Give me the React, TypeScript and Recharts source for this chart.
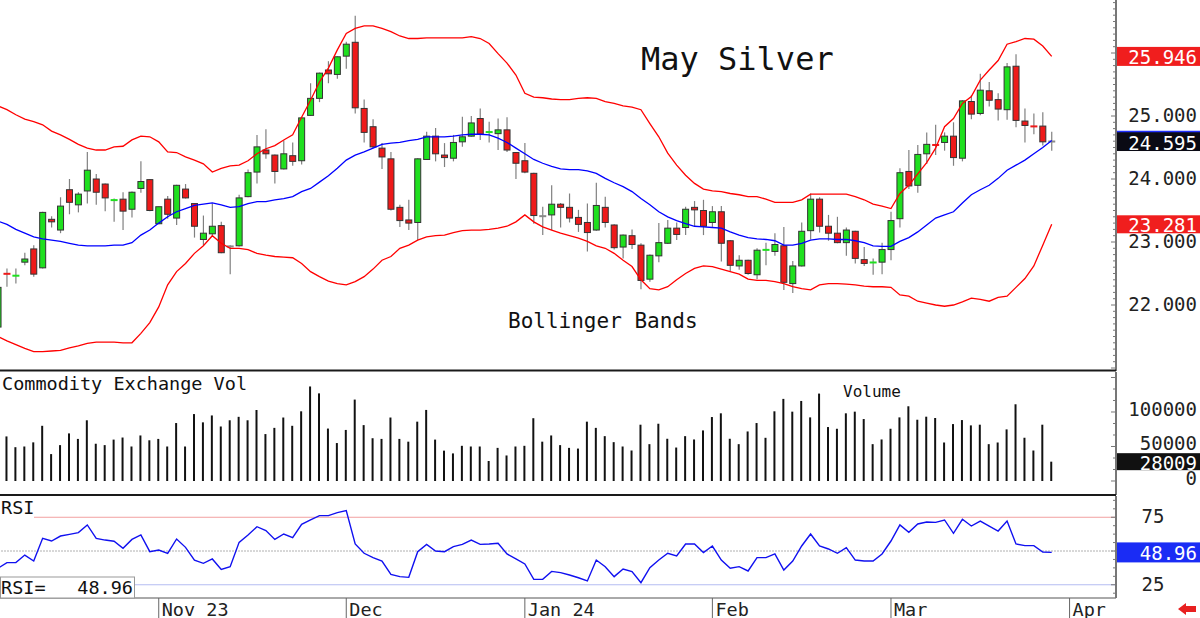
import React from 'react';
import { ComposedChart, Bar, Line, XAxis, YAxis, ReferenceLine } from 'recharts';

const FONT = "'DejaVu Sans Mono', monospace";

// ---- x domain (trading-day index) ----
const XMIN = 0.224;
const XMAX = 125.2;

// month ticks (index of first trading day of month)
const monthTickIdx = [18, 39, 59, 80, 100, 120];
const monthTickLabels = ['Nov 23', 'Dec', 'Jan 24', 'Feb', 'Mar', 'Apr'];

// ---- OHLC ----
const opens = [
  21.65, 22.50, 22.46, 22.68, 22.89, 22.59, 23.36, 23.19, 23.83, 23.59,
  23.81, 24.00, 23.92, 23.65, 23.68, 23.52, 23.85, 23.99, 23.29, 23.68,
  23.38, 23.84, 23.61, 23.04, 23.13, 23.26, 22.93, 22.94, 23.72, 24.11,
  24.46, 24.38, 24.16, 24.37, 24.29, 25.01, 25.28, 25.73, 25.66, 25.95,
  26.17, 25.12, 24.83, 24.49, 24.32, 23.55, 23.35, 23.31, 24.31, 24.68,
  24.38, 24.33, 24.59, 24.68, 24.96, 24.74, 24.72, 24.78, 24.42, 24.29,
  24.09, 23.41, 23.43, 23.60, 23.55, 23.39, 23.31, 23.19, 23.55, 23.27,
  22.92, 23.10, 22.95, 22.41, 22.78, 22.98, 23.22, 23.23, 23.55, 23.50,
  23.31, 23.48, 23.02, 22.62, 22.71, 22.48, 22.87, 22.85, 22.94, 22.34,
  22.62, 23.18, 23.68, 23.25, 23.14, 22.99, 23.17, 22.72, 22.67, 22.68,
  22.88, 23.37, 24.12, 23.90, 24.40, 24.55, 24.58, 24.68, 24.33, 25.23,
  25.04, 25.40, 25.26, 25.10, 25.79, 24.92, 24.84, 24.84, 24.595,
];
const highs = [
  22.30, 22.58, 22.58, 22.83, 22.95, 23.48, 23.41, 23.71, 24.00, 23.79,
  24.43, 24.08, 23.93, 23.69, 23.79, 23.80, 24.28, 24.00, 23.56, 23.73,
  23.91, 23.92, 23.61, 23.42, 23.61, 23.32, 22.95, 23.75, 24.15, 24.70,
  24.79, 24.39, 24.61, 24.58, 24.98, 25.52, 25.69, 25.87, 25.95, 26.18,
  26.59, 25.26, 24.95, 24.57, 24.43, 23.59, 23.67, 24.33, 24.75, 24.81,
  24.57, 24.70, 24.99, 25.00, 25.12, 24.91, 24.96, 24.98, 24.43, 24.57,
  24.10, 23.56, 23.90, 23.62, 23.77, 23.51, 23.61, 23.94, 23.72, 23.28,
  23.12, 23.20, 22.98, 22.80, 23.30, 23.35, 23.31, 23.56, 23.65, 23.67,
  23.57, 23.57, 23.03, 22.79, 22.72, 22.90, 22.99, 23.14, 23.24, 22.70,
  23.31, 23.77, 23.71, 23.43, 23.40, 23.23, 23.18, 22.92, 22.74, 22.99,
  23.48, 24.17, 24.46, 24.54, 24.74, 24.86, 24.74, 24.90, 25.25, 25.33,
  25.67, 25.54, 25.36, 25.84, 25.98, 25.12, 25.04, 25.06, 24.75,
];
const lows = [
  21.60, 22.29, 22.34, 22.63, 22.45, 22.58, 23.23, 23.14, 23.44, 23.47,
  23.61, 23.59, 23.49, 23.32, 23.19, 23.39, 23.78, 23.49, 23.28, 23.37,
  23.27, 23.69, 23.07, 22.95, 23.10, 22.82, 22.49, 22.93, 23.71, 23.93,
  24.32, 23.93, 24.15, 24.21, 24.23, 25.00, 25.22, 25.52, 25.59, 25.75,
  25.04, 24.58, 24.49, 24.16, 23.50, 23.24, 23.19, 23.03, 24.30, 24.28,
  24.19, 24.28, 24.51, 24.67, 24.62, 24.58, 24.46, 24.43, 24.00, 24.09,
  23.29, 23.11, 23.19, 23.23, 23.31, 23.16, 22.85, 23.18, 23.23, 22.88,
  22.74, 22.89, 22.25, 22.37, 22.68, 22.97, 23.03, 23.11, 23.25, 23.11,
  23.24, 22.69, 22.54, 22.56, 22.48, 22.41, 22.63, 22.78, 22.24, 22.19,
  22.61, 23.04, 23.15, 23.02, 22.98, 22.78, 22.66, 22.62, 22.48, 22.49,
  22.71, 23.23, 23.84, 23.78, 24.24, 24.38, 24.45, 24.21, 24.28, 24.95,
  25.01, 25.15, 24.93, 24.94, 24.82, 24.58, 24.71, 24.53, 24.45,
];
const closes = [
  22.28, 22.49, 22.47, 22.73, 22.49, 23.47, 23.32, 23.57, 23.63, 23.76,
  24.14, 23.79, 23.70, 23.68, 23.49, 23.79, 23.96, 23.50, 23.56, 23.44,
  23.90, 23.70, 23.25, 23.14, 23.25, 22.83, 22.93, 23.70, 24.10, 24.51,
  24.40, 24.12, 24.40, 24.28, 24.97, 25.28, 25.68, 25.67, 25.94, 26.14,
  25.13, 24.74, 24.51, 24.35, 23.52, 23.34, 23.30, 24.32, 24.68, 24.40,
  24.34, 24.58, 24.67, 24.89, 24.71, 24.75, 24.78, 24.46, 24.25, 24.11,
  23.42, 23.41, 23.60, 23.55, 23.38, 23.28, 23.15, 23.58, 23.31, 22.91,
  23.11, 22.96, 22.39, 22.79, 22.99, 23.22, 23.12, 23.52, 23.51, 23.25,
  23.48, 22.98, 22.63, 22.71, 22.50, 22.87, 22.88, 22.96, 22.36, 22.62,
  23.17, 23.68, 23.25, 23.14, 22.99, 23.19, 22.74, 22.66, 22.68, 22.88,
  23.34, 24.10, 23.89, 24.39, 24.55, 24.53, 24.68, 24.34, 25.24, 25.03,
  25.41, 25.25, 25.11, 25.78, 24.93, 24.85, 24.83, 24.59, 24.595,
];

// ---- Bollinger bands ----
const upperBand = [
  25.16, 25.10, 25.02, 24.95, 24.91, 24.86, 24.76, 24.70, 24.63, 24.55,
  24.49, 24.46, 24.46, 24.51, 24.52, 24.62, 24.68, 24.67, 24.59, 24.43,
  24.42, 24.35, 24.30, 24.24, 24.11, 24.17, 24.21, 24.22, 24.29, 24.40,
  24.48, 24.53, 24.62, 24.70, 24.98, 25.25, 25.54, 25.76, 26.05, 26.31,
  26.39, 26.43, 26.43, 26.39, 26.34, 26.27, 26.23, 26.23, 26.24, 26.24,
  26.24, 26.24, 26.24, 26.26, 26.23, 26.15, 25.99, 25.84, 25.65, 25.36,
  25.30, 25.29, 25.27, 25.26, 25.26, 25.28, 25.29, 25.28, 25.23, 25.20,
  25.16, 25.14, 25.10, 24.88, 24.67, 24.41, 24.22, 24.06, 23.93, 23.84,
  23.81, 23.80, 23.77, 23.75, 23.72, 23.72, 23.68, 23.63, 23.63, 23.63,
  23.67, 23.76, 23.76, 23.76, 23.76, 23.76, 23.72, 23.67, 23.60, 23.57,
  23.53, 23.77, 23.90, 24.08, 24.26, 24.49, 24.83, 24.96, 25.20, 25.31,
  25.57, 25.73, 25.88, 26.14, 26.18, 26.23, 26.22, 26.11, 25.946,
];
const midBand = [
  23.33, 23.28, 23.20, 23.14, 23.08, 23.05, 23.03, 23.01, 22.98, 22.95,
  22.94, 22.94, 22.94, 22.95, 22.95, 22.99, 23.11, 23.19, 23.30, 23.40,
  23.48, 23.53, 23.58, 23.60, 23.62, 23.59, 23.55, 23.56, 23.61, 23.64,
  23.64, 23.67, 23.69, 23.72, 23.80, 23.85, 23.95, 24.05, 24.17, 24.30,
  24.38, 24.43, 24.49, 24.55, 24.57, 24.58, 24.61, 24.63, 24.67, 24.67,
  24.67, 24.68, 24.70, 24.71, 24.71, 24.70, 24.65, 24.58, 24.49, 24.40,
  24.31, 24.25, 24.20, 24.16, 24.15, 24.15, 24.13, 24.09, 24.01, 23.94,
  23.88, 23.80, 23.69, 23.59, 23.48, 23.40, 23.34, 23.29, 23.25, 23.24,
  23.23, 23.22, 23.16, 23.11, 23.07, 23.05, 23.04, 23.02, 22.95, 22.95,
  22.98, 23.03, 23.05, 23.05, 23.04, 23.04, 23.02, 22.99, 22.94, 22.93,
  22.93, 23.01, 23.07, 23.16, 23.27, 23.38, 23.43, 23.48, 23.62, 23.75,
  23.83, 23.90, 24.01, 24.14, 24.22, 24.30, 24.40, 24.50, 24.61,
];
const lowerBand = [
  21.50, 21.43, 21.37, 21.31, 21.26, 21.26, 21.27, 21.28, 21.32, 21.35,
  21.39, 21.41, 21.41, 21.41, 21.40, 21.40, 21.55, 21.72, 21.97, 22.32,
  22.53, 22.66, 22.82, 22.94, 23.10, 22.98, 22.90, 22.90, 22.88, 22.82,
  22.79, 22.77, 22.76, 22.75, 22.66, 22.53, 22.45, 22.38, 22.34, 22.32,
  22.37, 22.45, 22.57, 22.71, 22.77, 22.90, 22.95, 23.03, 23.08, 23.10,
  23.11, 23.15, 23.18, 23.19, 23.19, 23.20, 23.22, 23.25, 23.32, 23.43,
  23.32, 23.24, 23.19, 23.14, 23.10, 23.06, 23.01, 22.94, 22.90, 22.82,
  22.71, 22.61, 22.40, 22.26, 22.24, 22.29, 22.40, 22.50, 22.58, 22.62,
  22.61, 22.57, 22.53, 22.49, 22.41, 22.39, 22.39, 22.37, 22.34, 22.29,
  22.26, 22.24, 22.32, 22.34, 22.34, 22.33, 22.32, 22.30, 22.29, 22.29,
  22.28, 22.16, 22.14, 22.06, 22.03, 22.00, 21.98, 22.00, 22.05, 22.11,
  22.09, 22.06, 22.12, 22.14, 22.28, 22.42, 22.62, 22.95, 23.281,
];

// ---- Volume ----
const volumes = [
  60000, 64600, 49000, 50000, 56000, 80000, 39000, 52000, 69000, 61000,
  88000, 54000, 52000, 60000, 63000, 50000, 66000, 59000, 61000, 50000,
  84000, 50000, 97000, 85000, 95000, 79000, 88000, 93000, 88000, 103000,
  68000, 77000, 92000, 80000, 101000, 137000, 127000, 76000, 55000, 74000,
  118000, 81000, 62000, 61000, 92000, 61000, 57000, 86000, 103000, 60000,
  44000, 40000, 51000, 50000, 50000, 29000, 48000, 37000, 50000, 51000,
  91000, 57000, 66000, 52000, 48000, 47000, 86000, 77000, 65000, 56300,
  50000, 44200, 81600, 53400, 83000, 61200, 48500, 65000, 60200, 73300,
  92700, 98100, 61200, 53400, 71800, 84000, 62600, 101000, 119000, 100500,
  116000, 92200, 126700, 78200, 75700, 98100, 100500, 89800, 53400, 60200,
  75700, 92200, 108300, 88800, 93200, 91300, 55800, 82500, 88300, 80600,
  81600, 53400, 55800, 74800, 111200, 62600, 44200, 81600, 28009,
];

// ---- RSI ----
const rsiValues = [
  37.2, 41.4, 41.4, 47.0, 42.6, 59.4, 57.4, 61.1, 62.3, 63.6,
  69.3, 59.4, 58.1, 57.2, 52.0, 58.6, 61.9, 49.5, 50.7, 48.3,
  58.9, 52.7, 43.3, 40.9, 44.1, 36.4, 38.4, 56.4, 61.9, 68.0,
  65.1, 58.6, 62.6, 59.9, 69.8, 73.0, 76.2, 76.2, 78.4, 79.9,
  55.2, 48.3, 45.1, 42.6, 32.7, 31.0, 30.5, 49.5, 54.9, 50.0,
  49.5, 53.2, 54.9, 58.1, 54.9, 55.2, 55.7, 47.8, 44.1, 40.4,
  29.0, 29.0, 34.9, 34.0, 32.2, 30.2, 27.8, 43.3, 38.4, 31.0,
  36.7, 34.7, 26.5, 37.7, 43.3, 48.3, 46.3, 55.2, 55.2, 48.8,
  53.7, 43.3, 37.2, 38.4, 35.2, 45.1, 45.1, 47.8, 35.9, 42.6,
  53.7, 62.6, 53.7, 51.5, 48.3, 52.5, 43.3, 42.6, 42.6, 47.8,
  57.4, 69.3, 63.8, 70.0, 71.5, 71.2, 73.0, 63.1, 73.5, 68.5,
  72.2, 68.5, 64.8, 72.2, 55.2, 54.0, 54.0, 49.3, 48.96,
];

// ---- axis labels ----
const priceLabels = [22, 23, 24, 25];
const volumeLabels = [0, 50000, 100000];
const rsiLabels = [25, 75];

const lastUpper = 25.946;
const lastLower = 23.281;
const lastClose = 24.595;
const lastVolume = 28009;
const lastRsi = 48.96;

// scales domains (pixel layout)
const P_MIN = 20.9524;
const P_MAX = 26.8413;
const V_MIN = -20290;
const V_MAX = 157971;
const R_MIN = 15.19;
const R_MAX = 90.74;

const rows = opens.map((o, i) => ({
  i,
  o,
  h: highs[i],
  l: lows[i],
  c: closes[i],
  range: [lows[i], highs[i]],
  upper: upperBand[i],
  mid: midBand[i],
  lower: lowerBand[i],
  vol: volumes[i],
  rsi: rsiValues[i],
}));

const GREEN = '#1fe01f';
const RED = '#ee1a1a';

const Candle = (props: any) => {
  const { x, y, width, height, payload } = props;
  if (!payload || x == null) return null;
  const { o, h, l, c } = payload;
  const yTop = Math.min(y, y + height);
  const yBot = Math.max(y, y + height);
  const k = h - l > 0 ? (yBot - yTop) / (h - l) : 0;
  const py = (v: number) => yTop + (h - v) * k;
  const cx = x + width / 2;
  const top = py(Math.max(o, c));
  const bot = py(Math.min(o, c));
  const flat = o === c;
  const fill = flat ? '#8a8a8a' : c > o ? GREEN : RED;
  const bw = 7;
  return (
    <g>
      <line x1={cx} x2={cx} y1={yTop} y2={yBot} stroke="#808080" strokeWidth={1.2} />
      {bot - top < 2 ? (
        <rect x={cx - bw / 2} y={(top + bot) / 2 - 1} width={bw} height={2} fill={fill} />
      ) : (
        <rect x={cx - bw / 2 + 0.5} y={top} width={bw - 1} height={bot - top} fill={fill} stroke="#333" strokeWidth={1} />
      )}
    </g>
  );
};

const makeTick = (
  labels: number[],
  fmt: (v: number) => string,
  isMajor: (v: number) => boolean,
  anchor: 'end' | 'middle',
  dy: number,
) =>
  (props: any) => {
    const { x, y, payload } = props;
    const v = payload.value;
    const major = isMajor(v);
    const hasLabel = labels.some((l) => Math.abs(l - v) < 1e-6);
    return (
      <g>
        <line x1={x - (major ? 5 : 3)} x2={x} y1={y} y2={y} stroke="#777" strokeWidth={1} />
        {hasLabel && (
          <text
            x={anchor === 'end' ? x + 81 : x + 37}
            y={y + dy}
            textAnchor={anchor}
            dominantBaseline="central"
            fontFamily={FONT}
            fontSize={19}
            fill="#222"
          >
            {fmt(v)}
          </text>
        )}
      </g>
    );
  };

const priceTicks: number[] = [];
for (let k = 210; k <= 268; k++) priceTicks.push(k / 10);
const volTicks: number[] = [];
for (let k = 0; k <= 9; k++) volTicks.push(Math.round((k * 50000) / 3));
const rsiTicks: number[] = [];
for (let k = 3; k <= 14; k++) rsiTicks.push(k * 6.25);

const priceTick = makeTick(priceLabels, (v) => v.toFixed(3), (v) => Math.abs(v - Math.round(v)) < 1e-6, 'end', -1);
const volTick = makeTick(volumeLabels, (v) => String(v), (v) => v % 50000 === 0, 'end', -3);
const rsiTick = makeTick(rsiLabels, (v) => String(v), (v) => v % 25 === 0, 'middle', -1);

const valueBox = (bg: string, text: string, h: number, topLine?: string) => (props: any) => {
  const vb = props.viewBox || {};
  const y = vb.y;
  const x0 = (vb.x || 0) + (vb.width || 0) + 1;
  return (
    <g>
      <rect x={x0} y={y - h / 2} width={83} height={h} fill={bg} />
      {topLine && <line x1={x0} x2={x0 + 83} y1={y - h / 2 - 0.5} y2={y - h / 2 - 0.5} stroke={topLine} strokeWidth={1.5} />}
      <text x={x0 + 80} y={y + 1} textAnchor="end" dominantBaseline="central" fontFamily={FONT} fontSize={19} fill="#fff">
        {text}
      </text>
    </g>
  );
};

const MonthTick = (props: any) => {
  const { x, y, payload, index } = props;
  return (
    <g>
      <line x1={x} x2={x} y1={y} y2={y + 20} stroke="#666" strokeWidth={1} />
      <text x={x + 3} y={y + 11} dominantBaseline="central" fontFamily={FONT} fontSize={18.5} fill="#222">
        {monthTickLabels[monthTickIdx.indexOf(payload.value)] ?? monthTickLabels[index]}
      </text>
    </g>
  );
};

// an invisible twin chart, drawn on top, that only carries the last-value boxes
const BoxLayer = ({ top, height, domain, children }: any) => (
  <div style={{ position: 'absolute', left: 0, top }}>
    <ComposedChart width={1200} height={height} data={rows} margin={{ top: 0, right: 0, bottom: 0, left: 0 }}>
      <XAxis type="number" dataKey="i" domain={[XMIN, XMAX]} allowDataOverflow hide />
      <YAxis orientation="right" width={84} type="number" domain={domain} allowDataOverflow tick={false} tickLine={false} axisLine={false} />
      {children}
    </ComposedChart>
  </div>
);

export default function App() {
  return (
    <div style={{ position: 'absolute', left: 0, top: 0, width: 1200, height: 618, background: '#fff', overflow: 'hidden' }}>
      {/* Price panel */}
      <div style={{ position: 'absolute', left: 0, top: 0 }}>
        <ComposedChart width={1200} height={371} data={rows} margin={{ top: 0, right: 0, bottom: 0, left: 0 }}>
          <XAxis type="number" dataKey="i" domain={[XMIN, XMAX]} allowDataOverflow hide />
          <YAxis
            orientation="right"
            width={84}
            type="number"
            domain={[P_MIN, P_MAX]}
            allowDataOverflow
            ticks={priceTicks}
            interval={0}
            tickSize={0}
            tickMargin={0}
            tickLine={false}
            axisLine={{ stroke: '#777', strokeWidth: 2 }}
            tick={priceTick}
          />
          <Line dataKey="upper" stroke="#ff0000" strokeWidth={1.3} dot={false} activeDot={false} isAnimationActive={false} />
          <Line dataKey="lower" stroke="#ff0000" strokeWidth={1.3} dot={false} activeDot={false} isAnimationActive={false} />
          <Line dataKey="mid" stroke="#0000ff" strokeWidth={1.3} dot={false} activeDot={false} isAnimationActive={false} />
          <Bar dataKey="range" barSize={7} shape={Candle} isAnimationActive={false} />
        </ComposedChart>
      </div>
      <BoxLayer top={0} height={371} domain={[P_MIN, P_MAX]}>
        <ReferenceLine y={lastUpper} stroke="none" label={valueBox('#f01e1e', lastUpper.toFixed(3), 19)} />
        <ReferenceLine y={lastLower} stroke="none" label={valueBox('#f01e1e', lastLower.toFixed(3), 18)} />
        <ReferenceLine y={lastClose} stroke="none" label={valueBox('#0a0a14', lastClose.toFixed(3), 19, '#2030ff')} />
      </BoxLayer>

      {/* Volume panel */}
      <div style={{ position: 'absolute', left: 0, top: 372 }}>
        <ComposedChart width={1200} height={123} data={rows} margin={{ top: 0, right: 0, bottom: 0, left: 0 }}>
          <XAxis type="number" dataKey="i" domain={[XMIN, XMAX]} allowDataOverflow hide />
          <YAxis
            orientation="right"
            width={84}
            type="number"
            domain={[V_MIN, V_MAX]}
            allowDataOverflow
            ticks={volTicks}
            interval={0}
            tickSize={0}
            tickMargin={0}
            tickLine={false}
            axisLine={{ stroke: '#777', strokeWidth: 2 }}
            tick={volTick}
          />
          <Bar dataKey="vol" barSize={2} fill="#111" isAnimationActive={false} />
        </ComposedChart>
      </div>
      <BoxLayer top={372} height={123} domain={[V_MIN, V_MAX]}>
        <ReferenceLine y={lastVolume} stroke="none" label={valueBox('#111', String(lastVolume), 17)} />
      </BoxLayer>

      {/* RSI panel */}
      <div style={{ position: 'absolute', left: 0, top: 496 }}>
        <ComposedChart width={1200} height={122} data={rows} margin={{ top: 0, right: 0, bottom: 0, left: 0 }}>
          <XAxis
            type="number"
            dataKey="i"
            domain={[XMIN, XMAX]}
            allowDataOverflow
            height={20}
            ticks={monthTickIdx}
            interval={0}
            tickSize={0}
            tickMargin={0}
            tickLine={false}
            axisLine={{ stroke: '#555', strokeWidth: 1 }}
            tick={MonthTick}
          />
          <YAxis
            orientation="right"
            width={84}
            type="number"
            domain={[R_MIN, R_MAX]}
            allowDataOverflow
            ticks={rsiTicks}
            interval={0}
            tickSize={0}
            tickMargin={0}
            tickLine={false}
            axisLine={{ stroke: '#777', strokeWidth: 2 }}
            tick={rsiTick}
          />
          <ReferenceLine y={75} stroke="#f2a0a0" strokeWidth={1} />
          <ReferenceLine y={50} stroke="#b0b0b0" strokeWidth={1} strokeDasharray="2 1" />
          <ReferenceLine y={25} stroke="#b4bcf2" strokeWidth={1} />
          <Line dataKey="rsi" stroke="#1010f0" strokeWidth={1.4} dot={false} activeDot={false} isAnimationActive={false} />
        </ComposedChart>
      </div>
      <BoxLayer top={496} height={102} domain={[R_MIN, R_MAX]}>
        <ReferenceLine y={lastRsi} stroke="none" label={valueBox('#1a2cf5', lastRsi.toFixed(2), 20)} />
      </BoxLayer>

      {/* Overlay: separators, titles */}
      <svg width={1200} height={618} style={{ position: 'absolute', left: 0, top: 0, pointerEvents: 'none' }}>
        <line x1={0} x2={1116} y1={370.5} y2={370.5} stroke="#1a1a1a" strokeWidth={2} />
        <line x1={0} x2={1116} y1={495} y2={495} stroke="#1a1a1a" strokeWidth={2} />
        <text x={641} y={70} fontFamily={FONT} fontSize={32} fill="#111">May Silver</text>
        <text x={508} y={328} fontFamily={FONT} fontSize={21} fill="#111">Bollinger Bands</text>
        <text x={2} y={390} fontFamily={FONT} fontSize={18.5} fill="#111">Commodity Exchange Vol</text>
        <text x={843} y={397} fontFamily={FONT} fontSize={16} fill="#111">Volume</text>
        <rect x={0} y={497} width={34} height={23} fill="#fff" />
        <text x={1} y={514} fontFamily={FONT} fontSize={18.5} fill="#111">RSI</text>
        <rect x={0.5} y={577} width={134} height={21} fill="#fff" stroke="#999" strokeWidth={1} />
        <text x={1} y={594} fontFamily={FONT} fontSize={18.5} fill="#111">RSI=</text>
        <text x={133} y={594} textAnchor="end" fontFamily={FONT} fontSize={18.5} fill="#111">{lastRsi.toFixed(2)}</text>
        <polygon points="1178,609 1186,603 1186,606 1196,606 1196,612 1186,612 1186,615" fill="#e82020" />
      </svg>
    </div>
  );
}
